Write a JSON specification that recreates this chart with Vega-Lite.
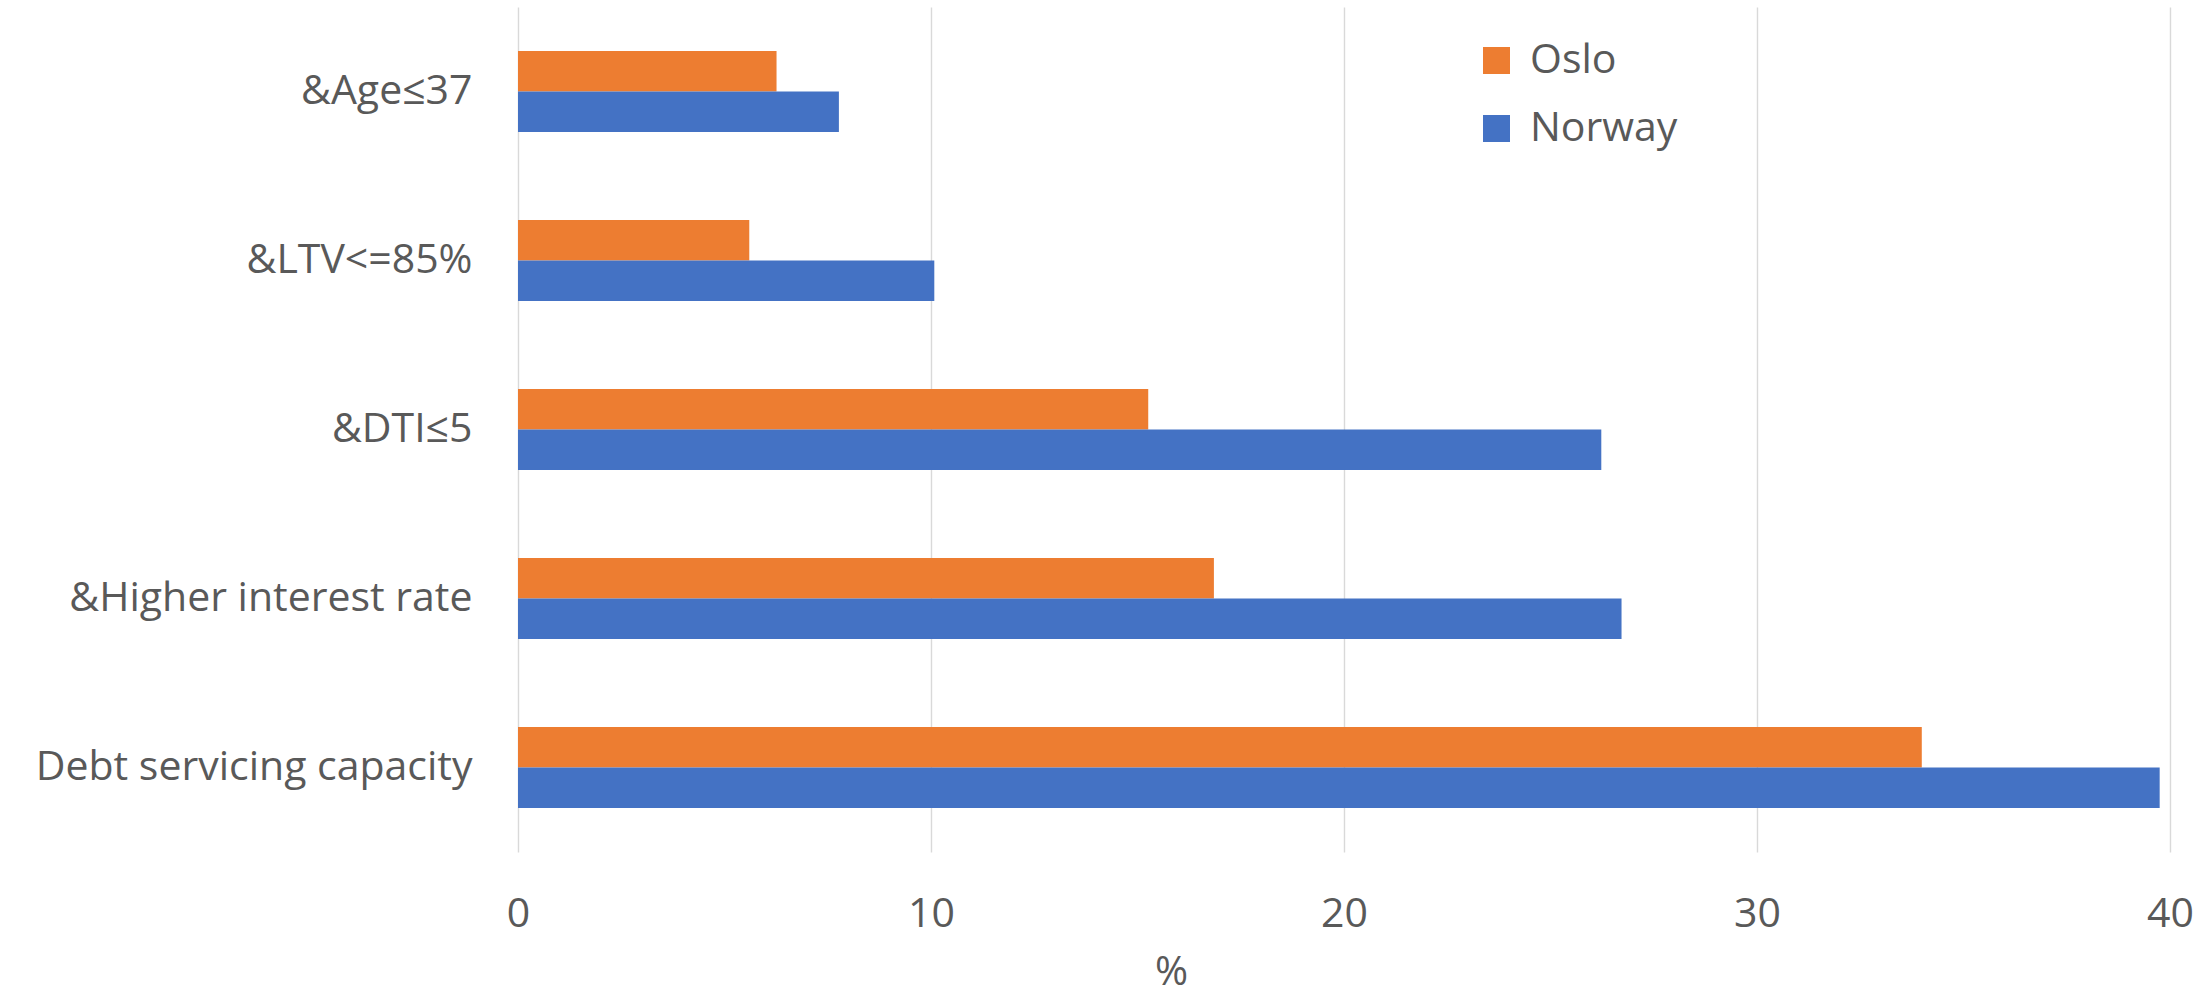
{
  "$schema": "https://vega.github.io/schema/vega-lite/v6.json",
  "width": 1652,
  "height": 845,
  "autosize": {"type": "none"},
  "padding": {"left": 518, "top": 7, "right": 40, "bottom": 147},
  "background": "white",
  "config": {
    "view": {"stroke": null},
    "font": "Open Sans, sans-serif"
  },
  "data": {
    "values": [
      {"condition": "&Age≤37", "region": "Oslo", "share": 6.26},
      {"condition": "&Age≤37", "region": "Norway", "share": 7.77},
      {"condition": "&LTV<=85%", "region": "Oslo", "share": 5.6},
      {"condition": "&LTV<=85%", "region": "Norway", "share": 10.08},
      {"condition": "&DTI≤5", "region": "Oslo", "share": 15.26},
      {"condition": "&DTI≤5", "region": "Norway", "share": 26.23},
      {"condition": "&Higher interest rate", "region": "Oslo", "share": 16.85},
      {"condition": "&Higher interest rate", "region": "Norway", "share": 26.72},
      {"condition": "Debt servicing capacity ", "region": "Oslo", "share": 33.99},
      {"condition": "Debt servicing capacity ", "region": "Norway", "share": 39.75}
    ]
  },
  "mark": {"type": "bar"},
  "encoding": {
    "y": {
      "field": "condition",
      "type": "nominal",
      "sort": null,
      "scale": {"paddingInner": 0.52, "paddingOuter": 0.26},
      "axis": {
        "title": null,
        "domain": false,
        "ticks": false,
        "labelFontSize": 41,
        "labelColor": "#595959",
        "labelPadding": 46,
        "labelLimit": 600
      }
    },
    "yOffset": {"field": "region", "type": "nominal", "sort": ["Oslo", "Norway"]},
    "x": {
      "field": "share",
      "type": "quantitative",
      "scale": {"domain": [0, 40], "nice": false},
      "axis": {
        "values": [0, 10, 20, 30, 40],
        "title": "%",
        "titleFontSize": 40,
        "titleFontWeight": "normal",
        "titleColor": "#595959",
        "titleX": 653,
        "titleY": 132,
        "titleAlign": "center",
        "titleBaseline": "alphabetic",
        "domain": false,
        "ticks": false,
        "grid": true,
        "gridColor": "#d9d9d9",
        "gridWidth": 1.4,
        "labelFontSize": 41,
        "labelColor": "#595959",
        "labelPadding": 42,
        "labelFlush": false
      }
    },
    "color": {
      "field": "region",
      "type": "nominal",
      "sort": ["Oslo", "Norway"],
      "scale": {"domain": ["Oslo", "Norway"], "range": ["#ED7D31", "#4472C4"]},
      "legend": {
        "title": null,
        "orient": "none",
        "legendX": 958,
        "legendY": 33,
        "padding": 0,
        "symbolType": "square",
        "symbolSize": 729,
        "symbolStrokeWidth": 0,
        "labelFontSize": 41,
        "labelColor": "#595959",
        "labelOffset": 13,
        "labelLimit": 400,
        "rowPadding": 26
      }
    }
  }
}
